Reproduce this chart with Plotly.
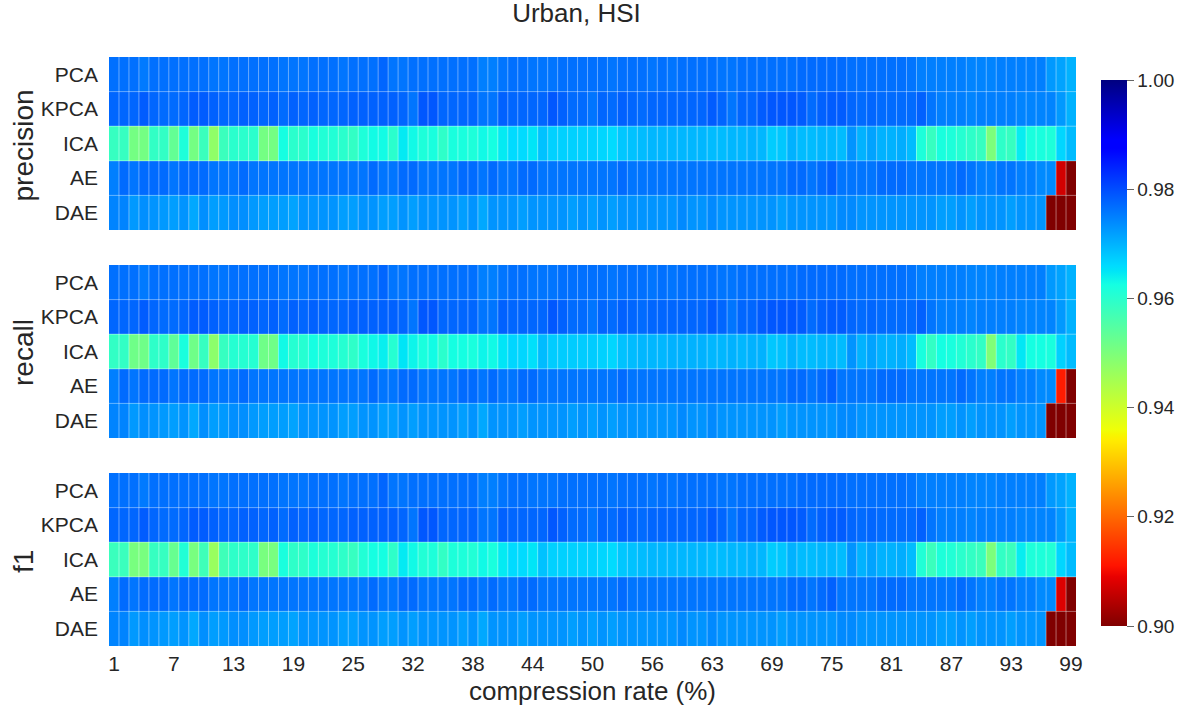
import numpy as np
import plotly.graph_objects as go

methods = ["PCA", "KPCA", "ICA", "AE", "DAE"]
metrics = ["precision", "recall", "f1"]
rates = [r for r in range(1, 100) if r not in (31, 62)]
tick_labels = ["1", "7", "13", "19", "25", "32", "38", "44", "50", "56", "63", "69", "75", "81", "87", "93", "99"]
colorbar_ticks = [0.90, 0.92, 0.94, 0.96, 0.98, 1.00]

pca = [.9765,.9765,.9765,.9755,.9765,.9765,.9765,.9765,.9765,.9765,
       .976,.976,.9765,.9765,.9765,.9765,.9765,.976,.976,.976,
       .9765,.9765,.9765,.976,.9765,.9765,.9765,.9775,.976,.976,
       .9765,.9765,.9765,.9765,.9765,.9765,.9765,.975,.975,.976,
       .9765,.9765,.976,.976,.976,.9765,.9765,.9765,.9765,.9765,
       .976,.9765,.9765,.9765,.976,.9765,.976,.9765,.9765,.9765,
       .9765,.976,.976,.9765,.9765,.9765,.9765,.9765,.9765,.977,
       .977,.977,.977,.977,.9765,.9765,.9765,.9765,.9765,.9765,
       .976,.975,.975,.975,.975,.975,.9745,.9745,.9745,.975,
       .975,.975,.975,.975,.9725,.9715,.970]
kpca = [.9775,.9775,.9775,.9785,.9775,.977,.977,.9775,.9785,.9785,
        .978,.9775,.9775,.978,.978,.9775,.978,.977,.978,.9775,
        .978,.9775,.9775,.9775,.978,.978,.978,.978,.978,.9775,
        .976,.979,.979,.9775,.9775,.9775,.9775,.976,.976,.978,
        .9775,.9775,.9775,.9775,.979,.978,.977,.977,.976,.9775,
        .977,.978,.9775,.977,.9775,.9775,.9775,.9775,.9775,.9775,
        .9785,.9775,.976,.9775,.9775,.9785,.979,.979,.979,.9785,
        .977,.978,.9785,.9785,.9775,.977,.9775,.977,.977,.977,
        .977,.978,.976,.975,.975,.975,.9745,.975,.975,.975,
        .975,.9745,.9745,.9745,.9745,.9725,.970]
ae_base = [.975,.977,.976,.977,.977,.977,.976,.977,.977,.977,
           .976,.976,.976,.977,.976,.976,.976,.976,.976,.976,
           .976,.976,.976,.976,.976,.976,.977,.976,.976,.977,
           .977,.976,.976,.976,.976,.977,.977,.976,.977,.976,
           .976,.977,.977,.976,.976,.976,.976,.976,.976,.976,
           .976,.977,.976,.976,.976,.976,.976,.976,.976,.976,
           .976,.976,.976,.976,.976,.976,.976,.976,.977,.977,
           .976,.977,.978,.976,.976,.976,.976,.977,.977,.977,
           .976,.976,.976,.976,.976,.977,.976,.975,.975,.976,
           .976,.975,.975,.974,.974]
dae = [.9745,.9745,.9725,.9735,.973,.9725,.972,.973,.971,.9735,
       .972,.9725,.9735,.9735,.9725,.972,.972,.972,.9715,.973,
       .973,.973,.973,.972,.972,.973,.973,.972,.972,.973,
       .972,.973,.973,.973,.973,.972,.973,.971,.973,.973,
       .973,.972,.973,.973,.973,.973,.972,.973,.972,.973,
       .972,.973,.973,.973,.973,.973,.973,.974,.973,.973,
       .974,.973,.973,.973,.973,.973,.973,.972,.973,.973,
       .973,.973,.973,.974,.974,.973,.973,.973,.973,.973,
       .973,.973,.973,.972,.972,.973,.972,.973,.973,.973,
       .972,.973,.973,.973,.889,.889,.889]

precision_ica = [.9585,.9585,.951,.951,.959,.959,.953,.9615,.951,.958,
                 .9475,.958,.960,.960,.960,.951,.951,.9625,.960,.960,
                 .962,.961,.961,.960,.959,.9615,.9628,.9628,.960,.9645,
                 .963,.9615,.962,.9595,.962,.962,.9615,.963,.9625,.9645,
                 .966,.966,.965,.9685,.967,.967,.967,.967,.967,.9665,
                 .966,.968,.9685,.969,.9695,.9695,.9695,.9695,.9695,.9695,
                 .969,.969,.9695,.9695,.970,.9695,.9675,.968,.970,.969,
                 .969,.9695,.9695,.969,.973,.970,.9715,.970,.970,.9705,
                 .969,.9615,.9585,.962,.9615,.9605,.9595,.9585,.950,.9595,
                 .9585,.9642,.962,.962,.9615,.9665,.969]
recall_ica = [.959,.959,.9515,.9515,.9595,.9595,.9535,.962,.9515,.9585,
              .948,.9585,.9605,.9605,.9605,.9515,.9515,.963,.9605,.9605,
              .9625,.9615,.9615,.9605,.9595,.962,.9632,.964,.9605,.965,
              .9635,.962,.9628,.960,.9625,.9625,.962,.9635,.963,.965,
              .9665,.9665,.9655,.969,.9675,.9675,.9675,.9675,.9675,.967,
              .9665,.9685,.969,.9695,.9695,.9695,.970,.970,.970,.970,
              .9695,.9695,.970,.9695,.970,.970,.968,.9685,.970,.969,
              .969,.9695,.9695,.969,.973,.970,.9715,.970,.970,.9705,
              .969,.962,.959,.9625,.962,.961,.960,.959,.9495,.960,
              .959,.9648,.9625,.9625,.962,.967,.969]
f1_ica = [.958,.958,.9505,.9505,.9585,.9585,.9525,.961,.9505,.9575,
          .9465,.9575,.9595,.9595,.9595,.9505,.9505,.962,.9595,.9595,
          .9615,.9605,.9605,.9595,.9585,.961,.9625,.9625,.9595,.9645,
          .963,.961,.9615,.959,.9615,.9615,.961,.963,.962,.9645,
          .966,.966,.965,.9685,.967,.967,.967,.967,.967,.9665,
          .966,.968,.9685,.969,.9695,.9695,.9695,.9695,.9695,.9695,
          .969,.969,.9695,.9695,.970,.9695,.9675,.968,.970,.969,
          .969,.9695,.9695,.969,.973,.970,.9715,.970,.970,.9705,
          .969,.961,.958,.9615,.961,.960,.959,.958,.950,.959,
          .958,.9642,.9615,.9615,.961,.9665,.969]
precision_ae_end = [.907, .889]
recall_ae_end = [.912, .889]
f1_ae_end = [.908, .889]

panels = [
    [pca, kpca, precision_ica, ae_base + precision_ae_end, dae],
    [pca, kpca, recall_ica, ae_base + recall_ae_end, dae],
    [pca, kpca, f1_ica, ae_base + f1_ae_end, dae],
]
for panel in panels:
    for row in panel:
        assert len(row) == len(rates), len(row)

# matplotlib "jet", reversed
red = [(0, 0), (.35, 0), (.66, 1), (.89, 1), (1, .5)]
green = [(0, 0), (.125, 0), (.375, 1), (.64, 1), (.91, 0), (1, 0)]
blue = [(0, .5), (.11, 1), (.34, 1), (.65, 0), (1, 0)]
stops = sorted({p for seg in (red, green, blue) for p, _ in seg})
def chan(seg, t):
    return int(round(255 * np.interp(t, [p for p, _ in seg], [v for _, v in seg])))
jet_r = sorted((1 - t, f"rgb({chan(red, t)},{chan(green, t)},{chan(blue, t)})") for t in stops)

W, H = 1190, 713
L, R, T, B = 109, 1076, 57, 646
PW, PH = R - L, B - T
spans = [(57, 230), (265, 438), (473, 646)]
metric_label_centres = [145.5, 353, 562]
FONT = "Liberation Sans"
INK = "#262626"

fig = go.Figure()
labels = [str(r) for r in rates]
layout = {}
shapes = []
annotations = []
for k, (panel, (top, bot), metric, cy) in enumerate(zip(panels, spans, metrics, metric_label_centres), start=1):
    sx = "" if k == 1 else str(k)
    fig.add_trace(go.Heatmap(
        z=panel, x=labels, y=methods, xaxis=f"x{sx}", yaxis=f"y{sx}",
        colorscale=jet_r, zmin=0.90, zmax=1.00, showscale=(k == 1), xgap=0, ygap=0,
        colorbar=dict(
            x=(1101 - L) / PW, xanchor="left", thickness=26, thicknessmode="pixels",
            y=(B - 353) / PH, yanchor="middle", len=546 / PH, lenmode="fraction",
            xpad=0, ypad=0, outlinewidth=0, ticks="outside", ticklen=7, tickwidth=1.2,
            tickcolor="#666666", tickvals=colorbar_ticks, ticktext=[f"{v:.2f}" for v in colorbar_ticks],
            tickfont=dict(family=FONT, size=19, color=INK),
        ),
    ))
    layout[f"xaxis{sx}"] = dict(
        domain=[0, 1], anchor=f"y{sx}", range=[-0.5, len(rates) - 0.5], type="category",
        tickmode="array", tickvals=tick_labels if k == 3 else [], ticktext=tick_labels if k == 3 else [],
        ticks="", showgrid=False, zeroline=False, showline=False, tickangle=0, ticklabelstandoff=3,
        tickfont=dict(family=FONT, size=21, color=INK),
    )
    layout[f"yaxis{sx}"] = dict(
        domain=[(B - bot) / PH, (B - top) / PH], anchor=f"x{sx}", range=[len(methods) - 0.5, -0.5],
        type="category", ticks="", ticklen=0, showgrid=False, zeroline=False, showline=False,
        ticklabelstandoff=10,
        tickfont=dict(family=FONT, size=21, color=INK),
    )
    annotations.append(dict(text=metric, textangle=-90, xref="paper", yref="paper",
                            x=(23 - L) / PW, y=(B - cy) / PH, xanchor="center", yanchor="middle",
                            showarrow=False, font=dict(family=FONT, size=28, color=INK)))
    for i in range(len(rates) - 1):
        shapes.append(dict(type="line", xref=f"x{sx}", yref=f"y{sx} domain", x0=i + .5, x1=i + .5, y0=0, y1=1,
                           line=dict(color="rgba(255,255,255,0.4)", width=1), layer="above"))
    for j in range(len(methods) - 1):
        shapes.append(dict(type="line", xref=f"x{sx} domain", yref=f"y{sx}", x0=0, x1=1, y0=j + .5, y1=j + .5,
                           line=dict(color="rgba(255,255,255,0.4)", width=1), layer="above"))

layout["xaxis3"]["title"] = dict(text="compression rate (%)", font=dict(family=FONT, size=26, color=INK), standoff=7)
fig.update_layout(
    width=W, height=H, autosize=False,
    margin=dict(l=L, r=W - R, t=T, b=H - B, pad=0),
    paper_bgcolor="white", plot_bgcolor="white",
    title=dict(text="Urban, HSI", x=576.5 / W, xanchor="center", y=1 - 12.5 / H, yanchor="middle",
               font=dict(family=FONT, size=26, color=INK)),
    shapes=shapes, annotations=annotations, **layout,
)
fig.write_html("out.html", post_script="document.body.style.margin='0';", config={"displayModeBar": False})
